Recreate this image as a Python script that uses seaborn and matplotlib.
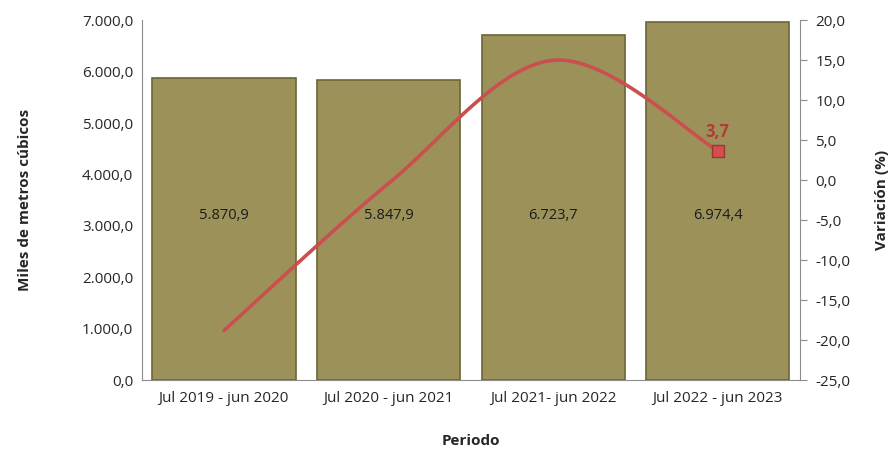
import numpy as np
import pandas as pd
import matplotlib
matplotlib.use("Agg")
import matplotlib.pyplot as plt
import seaborn as sns

# data
periodos = ["Jul 2019 - jun 2020", "Jul 2020 - jun 2021", "Jul 2021- jun 2022", "Jul 2022 - jun 2023"]
volumen = [5870.9, 5847.9, 6723.7, 6974.4]
variacion = [-18.8, -0.4, 15.0, 3.7]

# colors
olive = "#9c9259"
olive_dark = "#6b6536"
red_line = "#c9504f"
red_label = "#b23a37"

sns.set_style("white")
plt.rcParams["font.family"] = ["Open Sans", "DejaVu Sans"]

df = pd.DataFrame({"periodo": periodos, "volumen": volumen})

fig, ax = plt.subplots(figsize=(8.96, 4.51), dpi=100)
fig.subplots_adjust(left=0.158, right=0.893, top=0.955, bottom=0.157)

sns.barplot(data=df, x="periodo", y="volumen", color=olive, width=0.87,
            edgecolor=olive_dark, linewidth=1.2, saturation=1, ax=ax)
for p in ax.patches:
    p.set_zorder(2)

for i, v in enumerate(volumen):
    txt = f"{v:,.1f}".replace(",", "X").replace(".", ",").replace("X", ".")
    ax.text(i, 3200, txt, ha="center", va="center", fontsize=10.5, color="#1a1a1a", zorder=5)

ax.set_ylim(0, 7000)
ax.set_xlim(-0.5, 3.5)
ax.set_yticks(np.arange(0, 7001, 1000))
ax.set_yticklabels([f"{int(t):,}".replace(",", ".") + ",0" for t in np.arange(0, 7001, 1000)], fontsize=11)
ax.tick_params(axis="y", length=0, pad=6)
ax.tick_params(axis="x", length=0, labelsize=11, pad=8)
ax.set_xlabel("Periodo", fontsize=11, fontweight="bold", labelpad=20)
ax.set_ylabel("Miles de metros cúbicos", fontsize=11, fontweight="bold", labelpad=36)
for s in ["top", "right"]:
    ax.spines[s].set_visible(False)
ax.spines["left"].set_color("#8c8c8c")
ax.spines["bottom"].set_color("#8c8c8c")

# secondary axis: variation
ax2 = ax.twinx()
x = np.arange(len(variacion))
y = np.array(variacion)
# Catmull-Rom smoothing like the spreadsheet smoothed line
pts = np.column_stack([x, y]).astype(float)
ext = np.vstack([pts[0], pts, pts[-1]])
xs, ys = [], []
for k in range(1, len(ext) - 2):
    p0, p1, p2, p3 = ext[k - 1], ext[k], ext[k + 1], ext[k + 2]
    t = np.linspace(0, 1, 40)[:, None]
    c = 0.5 * ((2 * p1) + (-p0 + p2) * t + (2 * p0 - 5 * p1 + 4 * p2 - p3) * t**2
               + (-p0 + 3 * p1 - 3 * p2 + p3) * t**3)
    xs.extend(c[:, 0]); ys.extend(c[:, 1])
ax2.plot(xs, ys, color=red_line, linewidth=2.6, solid_capstyle="round", zorder=3)
ax2.plot(x[-1], y[-1], marker="s", markersize=8, color="#d0504f",
         markeredgecolor="#9a3532", markeredgewidth=1, zorder=4)
ax2.text(x[-1], y[-1] + 1.2, f"{y[-1]:.1f}".replace(".", ","), ha="center", va="bottom",
         fontsize=12, fontweight="bold", color=red_label)

ax2.set_ylim(-25, 20)
ticks2 = np.arange(-25, 21, 5)
ax2.set_yticks(ticks2)
ax2.set_yticklabels([f"{t:.1f}".replace(".", ",") for t in ticks2], fontsize=11)
ax2.tick_params(axis="y", direction="out", length=5, color="#8c8c8c", pad=6)
ax2.set_ylabel("Variación (%)", fontsize=11, fontweight="bold", labelpad=18)
for s in ["top", "left", "bottom"]:
    ax2.spines[s].set_visible(False)
ax2.spines["right"].set_color("#8c8c8c")

fig.savefig("out.png", dpi=100)
